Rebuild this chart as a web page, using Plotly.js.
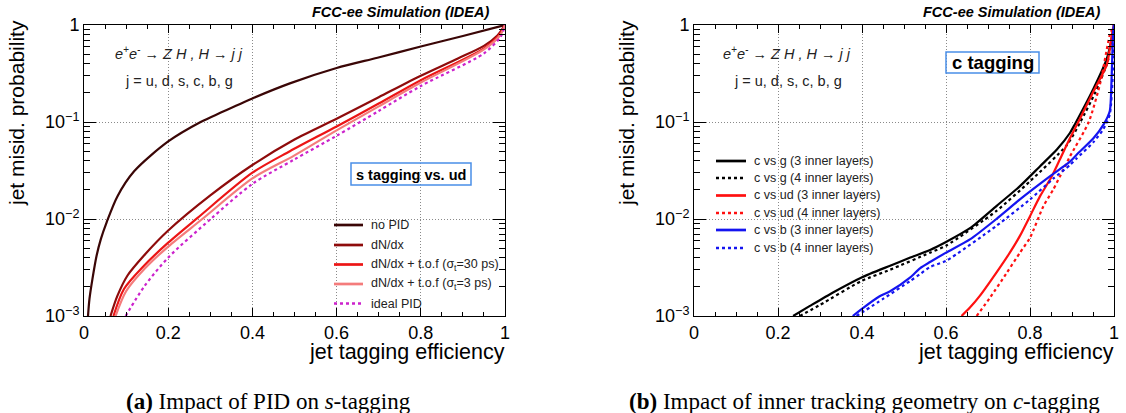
<!DOCTYPE html>
<html>
<head>
<meta charset="utf-8">
<script src="https://cdn.plot.ly/plotly-3.0.1.min.js"></script>
<style>html,body{margin:0;padding:0;background:#fff;}#chart{width:1126px;height:413px;}</style>
</head>
<body>
<div id="chart"></div>
<script>
// ---------- DATA: panel (a) s tagging vs ud ----------
const noPidEff = [0.0095, 0.013, 0.02, 0.03, 0.04, 0.054, 0.079, 0.119, 0.2, 0.277, 0.325, 0.4, 0.489, 0.6, 0.697, 0.8, 0.9, 1.0];
const noPidMis = [0.001, 0.0015, 0.0024, 0.0042, 0.0062, 0.0093, 0.017, 0.031, 0.063, 0.1, 0.125, 0.175, 0.25, 0.36, 0.46, 0.6, 0.77, 1.0];
const dndxEff = [0.063, 0.079, 0.103, 0.1425, 0.2, 0.3, 0.4, 0.5, 0.6, 0.7, 0.8, 0.887, 0.95, 0.982, 1.0];
const dndxMis = [0.001, 0.0016, 0.0026, 0.0042, 0.0076, 0.0175, 0.036, 0.066, 0.108, 0.18, 0.30, 0.45, 0.61, 0.78, 1.0];
const tof30Eff = [0.07, 0.095, 0.1425, 0.2, 0.269, 0.4, 0.489, 0.6, 0.7, 0.8, 0.95, 0.986, 1.0];
const tof30Mis = [0.001, 0.0019, 0.0033, 0.0057, 0.0102, 0.03, 0.05, 0.09, 0.155, 0.27, 0.575, 0.79, 1.0];
const tof3Eff = [0.075, 0.1, 0.145, 0.2, 0.281, 0.4, 0.499, 0.6, 0.7, 0.8, 0.95, 0.988, 1.0];
const tof3Mis = [0.001, 0.0018, 0.0031, 0.0052, 0.01, 0.0262, 0.045, 0.082, 0.145, 0.255, 0.56, 0.78, 1.0];
const idealEff = [0.099, 0.1425, 0.2, 0.301, 0.4, 0.499, 0.6, 0.7, 0.8, 0.95, 0.99, 1.0];
const idealMis = [0.001, 0.002, 0.004, 0.01, 0.023, 0.041, 0.072, 0.13, 0.235, 0.51, 0.76, 1.0];
const namesA = ['no PID', 'dN/dx', 'dN/dx + t.o.f (σ<sub>t</sub>=30 ps)', 'dN/dx + t.o.f (σ<sub>t</sub>=3 ps)', 'ideal PID'];

// ---------- DATA: panel (b) c tagging ----------
const cg3Eff = [0.236, 0.276, 0.331, 0.399, 0.467, 0.515, 0.562, 0.6, 0.658, 0.72, 0.776, 0.824, 0.864, 0.895, 0.907, 0.951, 0.983, 0.998, 1.0];
const cg3Mis = [0.001, 0.00127, 0.00175, 0.0025, 0.0033, 0.004, 0.0048, 0.0058, 0.0081, 0.0136, 0.0218, 0.035, 0.052, 0.077, 0.095, 0.22, 0.45, 0.87, 1.0];
const cg4Eff = [0.252, 0.3, 0.399, 0.467, 0.562, 0.6, 0.72, 0.8, 0.888, 0.92, 0.955, 0.985, 1.0];
const cg4Mis = [0.001, 0.0013, 0.0023, 0.003, 0.0045, 0.0053, 0.0121, 0.0245, 0.058, 0.1, 0.2, 0.42, 1.0];
const cud3Eff = [0.637, 0.657, 0.68, 0.72, 0.752, 0.776, 0.8, 0.824, 0.852, 0.871, 0.895, 0.915, 0.951, 0.983, 0.995, 1.0];
const cud3Mis = [0.001, 0.00122, 0.0016, 0.0028, 0.0045, 0.0067, 0.0107, 0.0172, 0.0276, 0.041, 0.068, 0.1, 0.206, 0.39, 0.79, 1.0];
const cud4Eff = [0.673, 0.705, 0.745, 0.776, 0.8, 0.832, 0.855, 0.879, 0.895, 0.94, 0.968, 0.99, 1.0];
const cud4Mis = [0.001, 0.00155, 0.0028, 0.0045, 0.0064, 0.0136, 0.02, 0.032, 0.044, 0.1, 0.26, 0.79, 1.0];
const cb3Eff = [0.378, 0.399, 0.442, 0.467, 0.515, 0.538, 0.562, 0.6, 0.658, 0.72, 0.776, 0.848, 0.895, 0.911, 0.951, 0.975, 0.99, 0.994, 0.998, 1.0];
const cb3Mis = [0.001, 0.00118, 0.0016, 0.0018, 0.0025, 0.0031, 0.0036, 0.0045, 0.0062, 0.01, 0.0159, 0.0276, 0.039, 0.046, 0.068, 0.094, 0.13, 0.26, 0.85, 1.0];
const cb4Eff = [0.387, 0.45, 0.515, 0.538, 0.562, 0.6, 0.72, 0.8, 0.855, 0.895, 0.911, 0.951, 0.975, 0.99, 0.997, 1.0];
const cb4Mis = [0.001, 0.0015, 0.0023, 0.0027, 0.0032, 0.0037, 0.0085, 0.0159, 0.026, 0.036, 0.042, 0.062, 0.085, 0.12, 0.3, 1.0];
const namesB = ['c vs g (3 inner layers)', 'c vs g (4 inner layers)', 'c vs ud (3 inner layers)', 'c vs ud (4 inner layers)', 'c vs b (3 inner layers)', 'c vs b (4 inner layers)'];

// ---------- tick labels ----------
const xTickVals = [0, 0.2, 0.4, 0.6, 0.8, 1];
const xTickText = ['0', '0.2', '0.4', '0.6', '0.8', '1'];
const yTickVals = [0.001, 0.01, 0.1, 1];
const yTickText = ['10<sup>−3</sup>', '10<sup>−2</sup>', '10<sup>−1</sup>', '1'];

// ---------- styling / layout helpers ----------
const W = 1126, H = 413;
const fx = p => p / W;
const fy = p => 1 - p / H;
const SANS = 'Liberation Sans, Arial, sans-serif';
const SERIF = 'Liberation Serif, Times New Roman, serif';
const LW = 2.2;

const styleA = [
  {color: '#3a0606', dash: 'solid'},
  {color: '#8e0b0b', dash: 'solid'},
  {color: '#ec1515', dash: 'solid'},
  {color: '#f47c7c', dash: 'solid'},
  {color: '#cc22cc', dash: 'dot'}
];
const styleB = [
  {color: '#000000', dash: 'solid'},
  {color: '#000000', dash: 'dot'},
  {color: '#ff1010', dash: 'solid'},
  {color: '#ff1010', dash: 'dot'},
  {color: '#1414f0', dash: 'solid'},
  {color: '#1414f0', dash: 'dot'}
];

const seriesA = [[noPidEff, noPidMis], [dndxEff, dndxMis], [tof30Eff, tof30Mis], [tof3Eff, tof3Mis], [idealEff, idealMis]];
const seriesB = [[cg3Eff, cg3Mis], [cg4Eff, cg4Mis], [cud3Eff, cud3Mis], [cud4Eff, cud4Mis], [cb3Eff, cb3Mis], [cb4Eff, cb4Mis]];

const traces = [];
seriesA.forEach((s, i) => traces.push({
  x: s[0], y: s[1], xaxis: 'x', yaxis: 'y', type: 'scatter', mode: 'lines',
  name: namesA[i], showlegend: false, hoverinfo: 'skip',
  line: {color: styleA[i].color, dash: styleA[i].dash, width: LW, shape: 'spline', smoothing: 0.8}
}));
seriesB.forEach((s, i) => traces.push({
  x: s[0], y: s[1], xaxis: 'x2', yaxis: 'y2', type: 'scatter', mode: 'lines',
  name: namesB[i], showlegend: false, hoverinfo: 'skip',
  line: {color: styleB[i].color, dash: styleB[i].dash, width: LW, shape: 'spline', smoothing: 0.6}
}));

const yMinor = [];
for (let d = -3; d < 0; d++) for (let k = 2; k <= 9; k++) yMinor.push(k * Math.pow(10, d));

function xAxis(domain, anchor) {
  return {
    domain: domain, anchor: anchor, range: [0, 1], type: 'linear',
    tickmode: 'array', tickvals: xTickVals, ticktext: xTickText,
    ticks: 'inside', ticklen: 8, tickwidth: 1, tickcolor: '#000',
    showline: true, linecolor: '#000', linewidth: 1, mirror: 'allticks',
    showgrid: true, gridcolor: '#8a8a8a', griddash: '1px,2px', gridwidth: 1,
    zeroline: false, automargin: false, fixedrange: true,
    tickfont: {family: SANS, size: 18, color: '#000'},
    minor: {dtick: 0.05, tick0: 0, ticks: 'inside', ticklen: 4, tickcolor: '#000', showgrid: false}
  };
}
function yAxis(domain, anchor) {
  return {
    domain: domain, anchor: anchor, type: 'log', range: [-3, 0],
    tickmode: 'array', tickvals: yTickVals, ticktext: yTickText,
    ticks: 'inside', ticklen: 12, tickwidth: 1, tickcolor: '#000',
    showline: true, linecolor: '#000', linewidth: 1, mirror: 'allticks',
    showgrid: true, gridcolor: '#8a8a8a', griddash: '1px,2px', gridwidth: 1,
    zeroline: false, automargin: false, fixedrange: true,
    tickfont: {family: SANS, size: 18, color: '#000'},
    minor: {tickmode: 'array', tickvals: yMinor, ticks: 'inside', ticklen: 6, tickcolor: '#000', showgrid: false}
  };
}

const yDom = [fy(316), fy(25)];
const annotations = [];
const shapes = [];
function txt(text, x, y, opts) {
  annotations.push(Object.assign({
    text: text, x: fx(x), y: fy(y), xref: 'paper', yref: 'paper',
    showarrow: false, xanchor: 'center', yanchor: 'middle',
    font: {family: SANS, size: 14, color: '#000'}
  }, opts || {}));
}

// axis titles
txt('jet misid. probability', 17, 113, {textangle: -90, font: {family: SANS, size: 21, color: '#000'}});
txt('jet misid. probability', 627, 113, {textangle: -90, font: {family: SANS, size: 21, color: '#000'}});
txt('jet tagging efficiency', 507, 352, {xanchor: 'right', font: {family: SANS, size: 21.5, color: '#000'}});
txt('jet tagging efficiency', 1116, 352, {xanchor: 'right', font: {family: SANS, size: 21.5, color: '#000'}});

// header labels
txt('<b><i>FCC-ee Simulation (IDEA)</i></b>', 491, 12.5, {xanchor: 'right', font: {family: SANS, size: 14.5, color: '#000'}});
txt('<b><i>FCC-ee Simulation (IDEA)</i></b>', 1102, 12.5, {xanchor: 'right', font: {family: SANS, size: 14.5, color: '#000'}});

// process text
txt('<i>e<sup>+</sup>e<sup>-</sup> → Z H , H → j j</i>', 179, 53, {font: {family: SANS, size: 14.5, color: '#222'}});
txt('j = u, d, s, c, b, g', 179, 81, {font: {family: SANS, size: 14.5, color: '#222'}});
txt('<i>e<sup>+</sup>e<sup>-</sup> → Z H , H → j j</i>', 787, 53, {font: {family: SANS, size: 14.5, color: '#222'}});
txt('j = u, d, s, c, b, g', 788, 81, {font: {family: SANS, size: 14.5, color: '#222'}});

// boxed labels
shapes.push({type: 'rect', xref: 'paper', yref: 'paper', x0: fx(351), x1: fx(471), y0: fy(185), y1: fy(163), line: {color: '#4a8fe8', width: 1.5}, fillcolor: 'rgba(0,0,0,0)'});
txt('<b>s tagging vs. ud</b>', 411, 174.5, {font: {family: SANS, size: 14.5, color: '#000'}});
shapes.push({type: 'rect', xref: 'paper', yref: 'paper', x0: fx(946), x1: fx(1039), y0: fy(73), y1: fy(52), line: {color: '#4a8fe8', width: 1.5}, fillcolor: 'rgba(0,0,0,0)'});
txt('<b>c tagging</b>', 992.5, 62.5, {font: {family: SANS, size: 18.5, color: '#000'}});

// manual legends
const legARows = [225, 245, 264.5, 284, 303.5];
namesA.forEach((n, i) => {
  shapes.push({type: 'line', xref: 'paper', yref: 'paper', x0: fx(334), x1: fx(363), y0: fy(legARows[i]), y1: fy(legARows[i]),
    line: {color: styleA[i].color, dash: styleA[i].dash, width: LW + 0.5}});
  txt(n, 369, legARows[i], {xanchor: 'left', font: {family: SANS, size: 12.5, color: '#222'}});
});
const legBRows = [161, 178, 195.5, 213, 230, 248];
namesB.forEach((n, i) => {
  shapes.push({type: 'line', xref: 'paper', yref: 'paper', x0: fx(716), x1: fx(746), y0: fy(legBRows[i]), y1: fy(legBRows[i]),
    line: {color: styleB[i].color, dash: styleB[i].dash, width: LW + 0.5}});
  txt(n, 752, legBRows[i], {xanchor: 'left', font: {family: SANS, size: 12.5, color: '#222'}});
});

// captions
txt('<b>(a)</b> Impact of PID on <i>s</i>-tagging', 268.5, 401, {font: {family: SERIF, size: 23, color: '#000'}});
txt('<b>(b)</b> Impact of inner tracking geometry on <i>c</i>-tagging', 864.5, 401, {font: {family: SERIF, size: 23, color: '#000'}});

const layout = {
  width: W, height: H,
  margin: {l: 0, r: 0, t: 0, b: 0, pad: 0},
  paper_bgcolor: '#fff', plot_bgcolor: '#fff',
  showlegend: false,
  xaxis: xAxis([fx(84), fx(505)], 'y'),
  yaxis: yAxis(yDom, 'x'),
  xaxis2: xAxis([fx(694), fx(1114)], 'y2'),
  yaxis2: yAxis(yDom, 'x2'),
  annotations: annotations,
  shapes: shapes
};

Plotly.newPlot('chart', traces, layout, {displayModeBar: false, staticPlot: true});
</script>
</body>
</html>
